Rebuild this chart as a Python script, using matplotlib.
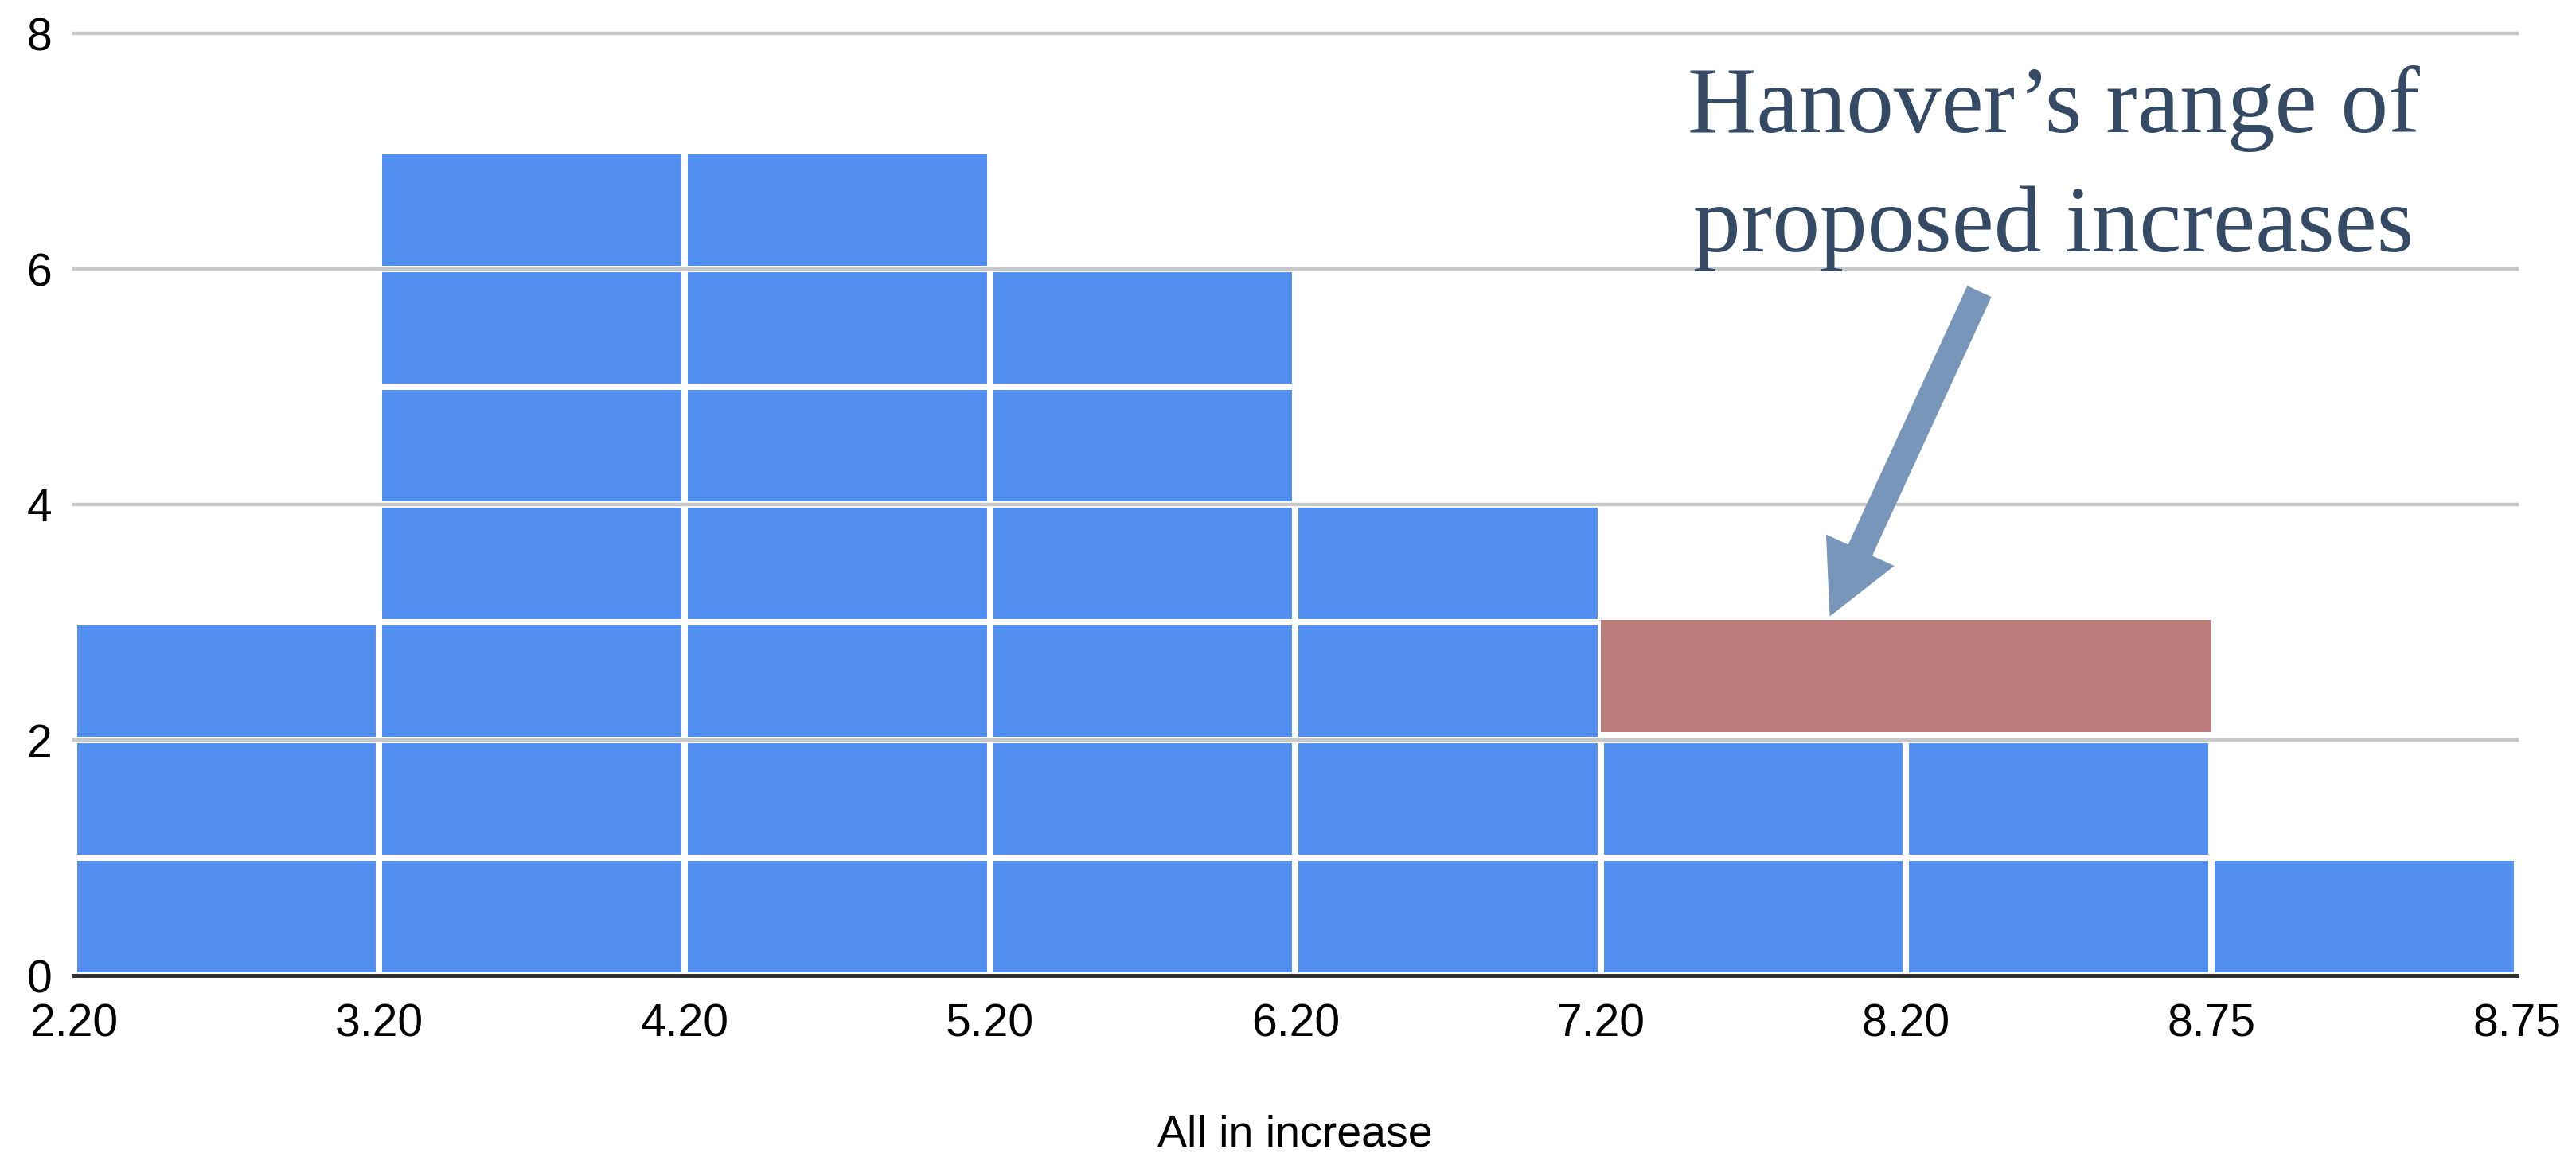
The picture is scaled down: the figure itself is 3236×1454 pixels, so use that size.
import matplotlib
matplotlib.use("Agg")
import matplotlib.pyplot as plt
import numpy as np

# histogram: one bar per bin, drawn as stacked unit blocks
bin_labels = ["2.20", "3.20", "4.20", "5.20", "6.20", "7.20", "8.20", "8.75", "8.75"]
counts = [3, 7, 7, 6, 4, 2, 2, 1]

# highlighted range (bins 6-7)
range_bins = [5, 6]
range_low, range_high = 2.07, 3.02

note_lines = ["Hanover\u2019s range of", "proposed increases"]
note_x = 6.483
note_baselines = [7.16, 6.146]
arrow_tail = (6.24, 5.81)
arrow_tip = (5.75, 3.05)

BLUE = "#528EEF"
RED = "#BB7E7C"
ARROW = "#7896BA"
NOTE = "#354B65"

plt.rcParams.update({
    "font.family": ["Liberation Sans", "DejaVu Sans"],
    "figure.facecolor": "white",
    "axes.facecolor": "white",
})

fig = plt.figure(figsize=(32.37, 14.54), dpi=100)
ax = fig.add_axes([0.0287, 0.1568, 0.948, 0.8143])

x = np.arange(len(counts))
cnt = np.array(counts)
for level in range(cnt.max()):
    mask = cnt > level
    ax.bar(x[mask], 1, bottom=level, width=1, align="edge", color=BLUE,
           edgecolor="white", linewidth=5.8, zorder=2)

ax.bar(range_bins[0], range_high - range_low, bottom=range_low,
       width=len(range_bins), align="edge", color=RED, linewidth=0, zorder=3)

ax.set_xlim(0, len(counts))
ax.set_ylim(0, 8)
ax.set_xticks(np.arange(len(bin_labels)))
ax.set_xticklabels(bin_labels)
ax.set_yticks([0, 2, 4, 6, 8])
ax.tick_params(axis="x", length=0, pad=25, labelsize=41)
ax.tick_params(axis="y", length=0, pad=20, labelsize=41)

for s in ["top", "right", "left"]:
    ax.spines[s].set_visible(False)
ax.spines["bottom"].set_color("#333333")
ax.spines["bottom"].set_linewidth(3.6)
ax.spines["bottom"].set_zorder(6)

for yv in [2, 4, 6, 8]:
    ax.axhline(yv, color="#C8C8C8", linewidth=3.2, zorder=2.5, clip_on=False)

ax.set_xlabel("All in increase", fontsize=40, labelpad=62)

for line, yb in zip(note_lines, note_baselines):
    ax.text(note_x, yb, line, ha="center", va="baseline",
            fontsize=86, family=["Liberation Serif", "DejaVu Serif"],
            color=NOTE, zorder=7)

ax.annotate("", xy=arrow_tip, xytext=arrow_tail,
            arrowprops=dict(arrowstyle="simple,head_length=66,head_width=68,tail_width=24",
                            mutation_scale=1, color=ARROW, shrinkA=0, shrinkB=0,
                            linewidth=0),
            zorder=8)

fig.savefig("out.png", dpi=100)
